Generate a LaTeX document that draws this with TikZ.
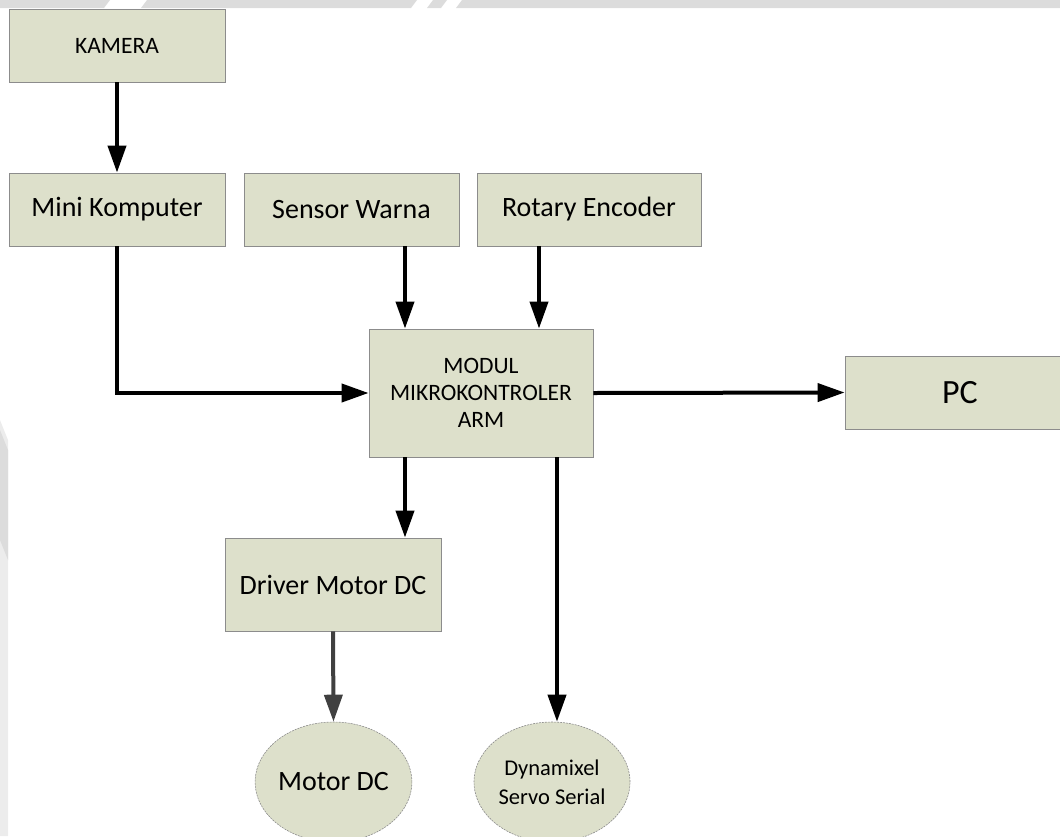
\documentclass[tikz,border=0pt]{standalone}
\usepackage{fontspec}
\setmainfont{Carlito}
\usetikzlibrary{arrows.meta,shapes.geometric}
\definecolor{boxfill}{RGB}{221,224,203}
\definecolor{boxline}{RGB}{140,140,140}
\definecolor{wmark}{RGB}{220,220,220}
\definecolor{wmarklight}{RGB}{236,236,236}
\definecolor{darkarrow}{RGB}{64,64,64}
\tikzset{
  blockbox/.style={rectangle, fill=boxfill, draw=boxline, line width=0.8pt, align=center, inner sep=0pt, font=\fontsize{28}{32}\selectfont},
  roundbox/.style={ellipse, fill=boxfill, draw=boxline, line width=0.6pt, dash pattern=on 2pt off 1pt, align=center, inner sep=0pt},
  flow/.style={line width=4pt, -{Triangle[length=27pt,width=18pt]}},
}
\begin{document}
\begin{tikzpicture}[x=1pt,y=-1pt]
\useasboundingbox (0,0) rectangle (1060,836);
% watermark traces
\fill[wmark] (0,0) -- (110,0) -- (104,8) -- (0,8) -- cycle;
\fill[wmark] (147,0) -- (417,0) -- (411,8) -- (141,8) -- cycle;
\fill[wmark] (433,0) -- (447,0) -- (441,8) -- (427,8) -- cycle;
\fill[wmark] (462,0) -- (1060,0) -- (1060,8) -- (456,8) -- cycle;
\fill[wmarklight] (0,420) -- (8,440) -- (8,836) -- (0,836) -- cycle;
\fill[wmark] (0,430) -- (8,450) -- (8,560) -- (0,540) -- cycle;
% nodes
\node[blockbox, minimum width=216pt, minimum height=73pt, font=\fontsize{23.5}{27}\selectfont] (kamera) at (117,45.5) {KAMERA};
\node[blockbox, minimum width=216pt, minimum height=73pt] (mini) at (117,209.5) {Mini Komputer};
\node[blockbox, minimum width=215pt, minimum height=73pt] (sensor) at (351.5,209.5) {Sensor Warna};
\node[blockbox, minimum width=224pt, minimum height=73pt] (rotary) at (589,209.5) {Rotary Encoder};
\node[blockbox, minimum width=224pt, minimum height=128pt, font=\fontsize{23.5}{27}\selectfont] (modul) at (481,393) {MODUL\\MIKROKONTROLER\\ARM};
\node[blockbox, minimum width=230pt, minimum height=73pt, font=\fontsize{34}{38}\selectfont] (pc) at (960,392.5) {PC};
\node[blockbox, minimum width=216pt, minimum height=93pt] (driver) at (333,584.5) {Driver Motor DC};
\node[roundbox, minimum width=144pt, minimum height=120pt, font=\fontsize{28}{32}\selectfont] (motor) at (333.5,782) {Motor DC};
\node[roundbox, minimum width=156pt, minimum height=120pt, font=\fontsize{22.5}{29}\selectfont] (dyna) at (552,782) {Dynamixel\\Servo Serial};
% connectors
\draw[flow] (kamera.south) -- (mini.north);
\draw[flow] (mini.south) |- (modul.west);
\draw[flow] ([xshift=53.5pt]sensor.south) -- ([xshift=53.5pt]sensor.south |- modul.north);
\draw[flow] ([xshift=-50pt]rotary.south) -- ([xshift=-50pt]rotary.south |- modul.north);
\draw[flow] (modul.east) -- (pc.west);
\draw[flow] ([xshift=-76pt]modul.south) -- ([xshift=-76pt]modul.south |- driver.north);
\draw[flow, darkarrow] (driver.south) -- (motor.north);
\draw[flow] ([xshift=76pt]modul.south) -- ([xshift=76pt]modul.south |- dyna.north);
\end{tikzpicture}
\end{document}
